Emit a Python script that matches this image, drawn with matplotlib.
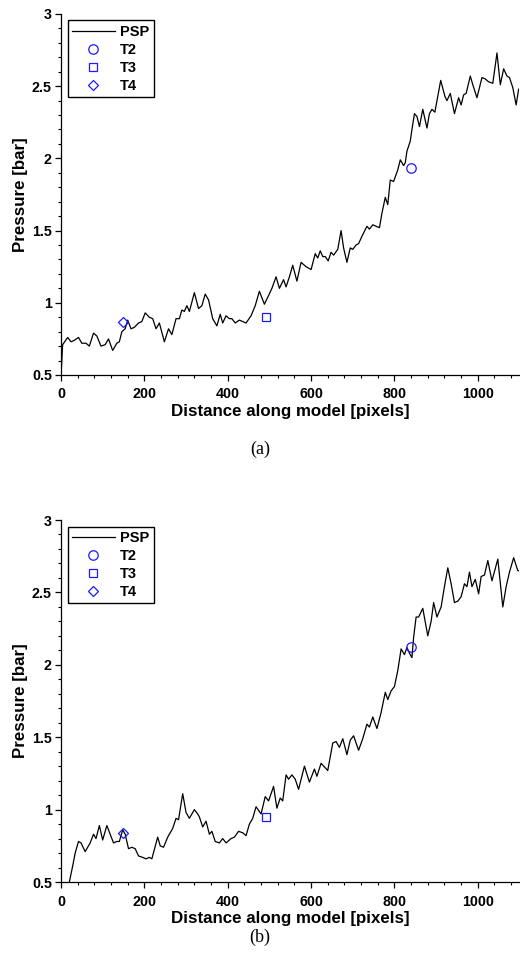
import matplotlib
matplotlib.use("Agg")
import matplotlib.pyplot as plt
from matplotlib.ticker import MultipleLocator

plt.rcParams['font.family'] = ['Liberation Sans', 'DejaVu Sans']

# ---- Panel (a) PSP profile ----
xa = [0, 4, 16, 24, 32, 42, 50, 60, 68, 78, 86, 96, 106, 114, 124, 134, 140, 146, 154, 160,
      168, 176, 186, 194, 202, 212, 220, 228, 236, 248, 258, 266, 276, 284, 290, 296, 302,
      308, 320, 330, 338, 346, 354, 364, 374, 382, 388, 396, 404, 410, 418, 428, 444, 456,
      466, 476, 488, 498, 506, 516, 524, 534, 540, 548, 556, 566, 576, 588, 600, 610, 616,
      622, 628, 634, 641, 648, 654, 664, 672, 678, 686, 694, 700, 708, 714, 722, 734, 740,
      748, 764, 770, 778, 784, 790, 798, 808, 814, 822, 826, 830, 838, 842, 848, 854, 860,
      868, 878, 884, 890, 897, 911, 921, 926, 934, 944, 954, 960, 966, 972, 982, 988, 998,
      1010, 1018, 1026, 1036, 1046, 1054, 1062, 1070, 1076, 1084, 1092, 1098, 1100]
ya = [0.50, 0.71, 0.76, 0.73, 0.74, 0.76, 0.72, 0.72, 0.70, 0.79, 0.77, 0.70, 0.71, 0.75,
      0.67, 0.72, 0.73, 0.80, 0.82, 0.88, 0.82, 0.83, 0.86, 0.87, 0.93, 0.90, 0.89, 0.82,
      0.86, 0.73, 0.82, 0.78, 0.89, 0.89, 0.95, 0.94, 0.98, 0.94, 1.07, 0.96, 0.98, 1.06,
      1.02, 0.89, 0.84, 0.92, 0.86, 0.91, 0.89, 0.89, 0.86, 0.88, 0.86, 0.91, 0.98, 1.08,
      0.99, 1.05, 1.10, 1.18, 1.10, 1.16, 1.11, 1.18, 1.26, 1.15, 1.28, 1.25, 1.23, 1.34,
      1.31, 1.36, 1.32, 1.32, 1.29, 1.35, 1.33, 1.37, 1.50, 1.38, 1.28, 1.38, 1.37, 1.40,
      1.41, 1.46, 1.53, 1.51, 1.54, 1.52, 1.62, 1.73, 1.68, 1.85, 1.84, 1.92, 1.99, 1.95,
      1.97, 2.05, 2.12, 2.20, 2.31, 2.29, 2.22, 2.34, 2.21, 2.31, 2.34, 2.32, 2.54, 2.43,
      2.40, 2.45, 2.31, 2.42, 2.37, 2.44, 2.45, 2.57, 2.51, 2.42, 2.56, 2.55, 2.53, 2.52,
      2.73, 2.51, 2.62, 2.57, 2.56, 2.49, 2.37, 2.48, 2.47]

# ---- Panel (b) PSP profile ----
xb = [20, 28, 34, 42, 48, 58, 66, 70, 78, 84, 92, 100, 110, 118, 126, 134, 140, 148, 154,
      162, 170, 178, 186, 196, 204, 212, 218, 232, 238, 246, 256, 268, 276, 282, 292, 300,
      308, 320, 328, 332, 340, 348, 356, 362, 370, 380, 388, 396, 408, 416, 426, 436, 444,
      452, 460, 468, 480, 490, 498, 510, 518, 526, 532, 540, 546, 554, 562, 570, 584, 596,
      608, 614, 624, 640, 652, 660, 668, 676, 686, 694, 702, 714, 724, 734, 740, 748, 758,
      768, 778, 784, 792, 800, 808, 816, 824, 830, 836, 842, 846, 852, 858, 868, 880, 888,
      894, 902, 912, 920, 928, 936, 944, 952, 960, 968, 974, 980, 986, 994, 1002, 1008,
      1016, 1024, 1034, 1048, 1060, 1068, 1076, 1086, 1096, 1100]
yb = [0.50, 0.61, 0.70, 0.78, 0.77, 0.71, 0.75, 0.77, 0.83, 0.80, 0.89, 0.79, 0.89, 0.83,
      0.77, 0.78, 0.78, 0.86, 0.83, 0.73, 0.74, 0.73, 0.68, 0.67, 0.66, 0.67, 0.66, 0.81,
      0.75, 0.74, 0.81, 0.87, 0.94, 0.93, 1.11, 0.98, 0.94, 1.00, 0.97, 0.95, 0.88, 0.92,
      0.83, 0.85, 0.78, 0.77, 0.80, 0.77, 0.80, 0.81, 0.85, 0.84, 0.82, 0.90, 0.94, 1.02,
      0.97, 1.09, 1.06, 1.16, 1.01, 1.08, 1.06, 1.24, 1.21, 1.24, 1.21, 1.14, 1.30, 1.19,
      1.28, 1.23, 1.32, 1.27, 1.46, 1.47, 1.43, 1.49, 1.38, 1.48, 1.51, 1.41, 1.49, 1.59,
      1.57, 1.64, 1.56, 1.67, 1.81, 1.76, 1.82, 1.85, 1.96, 2.11, 2.07, 2.12, 2.08, 2.05,
      2.19, 2.33, 2.33, 2.39, 2.20, 2.30, 2.43, 2.33, 2.40, 2.54, 2.67, 2.56, 2.43, 2.44,
      2.47, 2.56, 2.54, 2.64, 2.54, 2.59, 2.49, 2.61, 2.62, 2.72, 2.58, 2.73, 2.40, 2.54,
      2.64, 2.74, 2.65, 2.65]

# ---- Transducer readings ----
t_x = {'T2': 840, 'T3': 493, 'T4': 148}
t_a = {'T2': 1.93, 'T3': 0.90, 'T4': 0.87}
t_b = {'T2': 2.12, 'T3': 0.95, 'T4': 0.84}

x_ticks = [0, 200, 400, 600, 800, 1000]
y_ticks = [0.5, 1, 1.5, 2, 2.5, 3]
y_ticklabels = ['0.5', '1', '1.5', '2', '2.5', '3']

fig = plt.figure(figsize=(5.2, 9.63), dpi=100)
ax_a = fig.add_axes([0.1173, 0.6106, 0.8817, 0.3749])
ax_b = fig.add_axes([0.1173, 0.0841, 0.8817, 0.3759])

markers = {'T2': ('o', 6.8), 'T3': ('s', 5.2), 'T4': ('D', 5.2)}

for ax, xs, ys, tv, lab, ly in [(ax_a, xa, ya, t_a, '(a)', 449), (ax_b, xb, yb, t_b, '(b)', 937)]:
    ax.plot(xs, ys, color='black', lw=0.9, label='PSP')
    for k in ['T2', 'T3', 'T4']:
        m, ms = markers[k]
        ax.plot([t_x[k]], [tv[k]], linestyle='none', marker=m, ms=ms, mfc='none',
                mec='#1a1aff', mew=0.9, label=k)
    ax.set_xlim(0, 1100)
    ax.set_ylim(0.5, 3)
    ax.set_xticks(x_ticks)
    ax.set_yticks(y_ticks)
    ax.set_yticklabels(y_ticklabels)
    ax.xaxis.set_minor_locator(MultipleLocator(40))
    ax.yaxis.set_minor_locator(MultipleLocator(0.1))
    ax.tick_params(which='major', direction='out', length=4, width=0.9, labelsize=10.3,
                   pad=2.5, colors='black')
    ax.tick_params(axis='x', which='major', pad=5)
    ax.tick_params(which='minor', direction='out', length=2, width=0.8)
    for t in ax.get_xticklabels() + ax.get_yticklabels():
        t.set_fontweight('bold')
    ax.spines['top'].set_visible(False)
    ax.spines['right'].set_visible(False)
    ax.spines['left'].set_linewidth(0.9)
    ax.spines['bottom'].set_linewidth(0.9)
    ax.set_xlabel('Distance along model [pixels]', fontsize=12.2, fontweight='bold', labelpad=2)
    ax.set_ylabel('Pressure [bar]', fontsize=12.2, fontweight='bold', labelpad=3)
    leg = ax.legend(loc='upper left', bbox_to_anchor=(0.015, 0.982), borderaxespad=0,
                    frameon=True, fancybox=False, edgecolor='black', framealpha=1,
                    prop={'weight': 'bold', 'size': 10.5}, handlelength=2.9,
                    labelspacing=0.27, handletextpad=0.4, borderpad=0.3)
    leg.get_frame().set_linewidth(1.0)
    fig.text(0.5, 1 - ly / 963, lab, ha='center', va='center',
             family='Liberation Serif', fontsize=13)

fig.savefig('out.png', dpi=100)
